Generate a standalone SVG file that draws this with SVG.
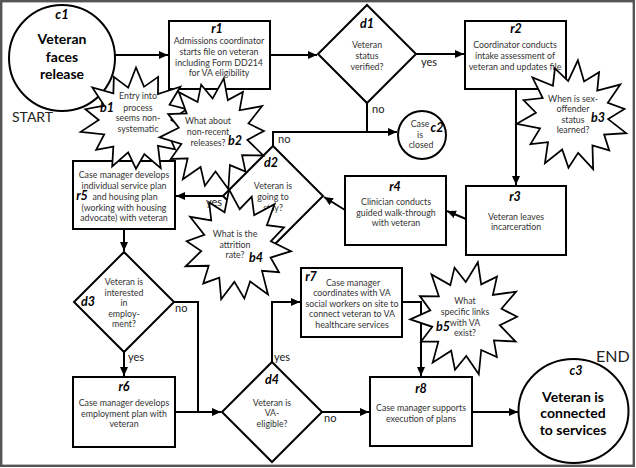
<svg xmlns="http://www.w3.org/2000/svg" width="636" height="468" viewBox="0 0 636 468">
<style>
.box{fill:#fff;stroke:#000;stroke-width:2}
.conn{fill:none;stroke:#000;stroke-width:2}
.burst{fill:#fff;stroke:#000;stroke-width:1.8;stroke-linejoin:miter}
text{font-family:Lato,'Liberation Sans',sans-serif}
.t{font-size:8.8px;fill:#333;text-anchor:middle}
.tag{font-size:12.5px;font-weight:bold;font-style:italic;fill:#000;text-anchor:middle}
.lbl{font-size:11px;fill:#222}
.big{font-size:14px;font-weight:bold;fill:#000;text-anchor:middle}
.side{font-size:14px;fill:#222}
</style>
<defs>
<marker id="arr" markerUnits="userSpaceOnUse" markerWidth="10" markerHeight="9" refX="9" refY="4" orient="auto">
<path d="M0,0 L9,4 L0,8 z" fill="#000"/>
</marker>
<path id="burstShape" d="M0,-57 L8.2,-36.1 L22.6,-46.9 L22.4,-28.1 L45.3,-36.2 L34.2,-16.5 L51.7,-11.8 L36,0 L55.6,12.7 L33.3,16.1 L39.9,31.8 L22.4,28.1 L25.2,52.3 L8.5,37 L0,53 L-8,35.1 L-24.3,50.5 L-23.1,28.9 L-40.7,32.4 L-32.4,15.6 L-56.5,12.9 L-38,0 L-51.7,-11.8 L-32.4,-15.6 L-44.6,-35.5 L-23.1,-28.9 L-22.6,-46.9 L-8,-35.1 Z"/>
</defs>
<rect x="0" y="0" width="636" height="468" fill="#fff"/>
<rect x="1.2" y="1.2" width="632.6" height="464.6" fill="none" stroke="#555" stroke-width="2.4"/>

<g id="connectors">
<path class="conn" d="M115,55 H168" marker-end="url(#arr)"/>
<path class="conn" d="M270,55 H317" marker-end="url(#arr)"/>
<path class="conn" d="M416,54 H464" marker-end="url(#arr)"/>
<path class="conn" d="M367,103 V132"/>
<path class="conn" d="M273,146 V132 H397" marker-end="url(#arr)"/>
<path class="conn" d="M516,89 V185" marker-end="url(#arr)"/>
<path class="conn" d="M466,219 L447,211" marker-end="url(#arr)"/>
<path class="conn" d="M345,210 L324,197" marker-end="url(#arr)"/>
<path class="conn" d="M223,196 H176" marker-end="url(#arr)"/>
<path class="conn" d="M124,229 V251" marker-end="url(#arr)"/>
<path class="conn" d="M174,302 H198 V412"/>
<path class="conn" d="M124,352 V376" marker-end="url(#arr)"/>
<path class="conn" d="M175,412 H221" marker-end="url(#arr)"/>
<path class="conn" d="M272,362 V302 H300" marker-end="url(#arr)"/>
<path class="conn" d="M322,412 H369" marker-end="url(#arr)"/>
<path class="conn" d="M402,302 H421 V376" marker-end="url(#arr)"/>
<path class="conn" d="M472,412 H518" marker-end="url(#arr)"/>
<text class="lbl" x="421" y="66">yes</text>
<text class="lbl" x="372" y="113">no</text>
<text class="lbl" x="278" y="143">no</text>
<text class="lbl" x="206" y="205.5">yes</text>
<text class="lbl" x="175" y="312">no</text>
<text class="lbl" x="128" y="361">yes</text>
<text class="lbl" x="274" y="360.5">yes</text>
<text class="lbl" x="324" y="421.5">no</text>
</g>

<g id="c1">
<circle class="box" cx="62" cy="58" r="53"/>
<text class="tag" x="62" y="19" style="font-size:13px">c1</text>
<text class="big" x="62" y="44">Veteran</text>
<text class="big" x="62" y="62">faces</text>
<text class="big" x="62" y="79">release</text>
<text class="side" x="12" y="122">START</text>
</g>

<g id="r1">
<rect class="box" x="169" y="21" width="101" height="68"/>
<text class="tag" x="217" y="33">r1</text>
<text class="t" x="219" y="43.5">Admissions coordinator</text>
<text class="t" x="219" y="54.5">starts file on veteran</text>
<text class="t" x="219" y="65.5">including Form DD214</text>
<text class="t" x="219" y="75.5">for VA eligibility</text>
</g>

<g id="d1">
<polygon class="box" points="367,5 416,54 367,103 318,54"/>
<text class="tag" x="367" y="28">d1</text>
<text class="t" x="367" y="47.5">Veteran</text>
<text class="t" x="367" y="58.5">status</text>
<text class="t" x="367" y="69.5">verified?</text>
</g>

<g id="r2">
<rect class="box" x="465" y="21" width="101" height="68"/>
<text class="tag" x="516" y="33">r2</text>
<text class="t" x="515" y="47.5">Coordinator conducts</text>
<text class="t" x="515" y="58.5">intake assessment of</text>
<text class="t" x="515" y="69.5">veteran and updates file</text>
</g>

<g id="c2">
<circle class="box" cx="422" cy="135" r="24"/>
<text class="t" x="420" y="126.5">Case</text>
<text class="t" x="420" y="137.5">is</text>
<text class="t" x="421" y="147.5">closed</text>
<text class="tag" x="437" y="132">c2</text>
</g>

<g id="r3">
<rect class="box" x="466" y="186" width="100" height="69"/>
<text class="tag" x="515" y="201">r3</text>
<text class="t" x="516" y="219.5">Veteran leaves</text>
<text class="t" x="516" y="229.5">incarceration</text>
</g>

<g id="r4">
<rect class="box" x="345" y="176" width="101" height="69"/>
<text class="tag" x="395" y="191">r4</text>
<text class="t" x="396" y="204.5">Clinician conducts</text>
<text class="t" x="396" y="215.5">guided walk-through</text>
<text class="t" x="396" y="225.5">with veteran</text>
</g>

<g id="d2">
<polygon class="box" points="273,146 323,196 273,246 223,196"/>
<text class="tag" x="271" y="167">d2</text>
<text class="t" x="273" y="188.5">Veteran is</text>
<text class="t" x="273" y="199.5">going to</text>
<text class="t" x="273" y="210.5">stay?</text>
</g>

<g id="r5">
<rect class="box" x="73" y="161" width="102" height="68"/>
<text class="tag" x="82" y="200">r5</text>
<text class="t" x="124" y="177.5">Case manager develops</text>
<text class="t" x="124" y="188.5">individual service plan</text>
<text class="t" x="125" y="199.5">and housing plan</text>
<text class="t" x="124" y="210.5">(working with housing</text>
<text class="t" x="124" y="220.5">advocate) with veteran</text>
</g>

<g id="d3">
<polygon class="box" points="124,252 174,302 124,352 74,302"/>
<text class="tag" x="88" y="306">d3</text>
<text class="t" x="124" y="284.5">Veteran is</text>
<text class="t" x="124" y="295.5">interested</text>
<text class="t" x="124" y="305.5">in</text>
<text class="t" x="124" y="316.5">employ-</text>
<text class="t" x="124" y="326.5">ment?</text>
</g>

<g id="r6">
<rect class="box" x="73" y="377" width="102" height="70"/>
<text class="tag" x="124" y="391">r6</text>
<text class="t" x="124" y="405.5">Case manager develops</text>
<text class="t" x="124" y="416.5">employment plan with</text>
<text class="t" x="124" y="426.5">veteran</text>
</g>

<g id="d4">
<polygon class="box" points="272,362 322,412 272,462 222,412"/>
<text class="tag" x="272" y="384">d4</text>
<text class="t" x="272" y="405.5">Veteran is</text>
<text class="t" x="272" y="415.5">VA-</text>
<text class="t" x="272" y="426.5">eligible?</text>
</g>

<g id="r7">
<rect class="box" x="301" y="268" width="101" height="69"/>
<text class="tag" x="311" y="281">r7</text>
<text class="t" x="353" y="285.5">Case manager</text>
<text class="t" x="352" y="295.5">coordinates  with VA</text>
<text class="t" x="352" y="306.5">social workers on site to</text>
<text class="t" x="352" y="316.5">connect veteran to VA</text>
<text class="t" x="352" y="327.5">healthcare services</text>
</g>

<g id="r8">
<rect class="box" x="370" y="377" width="102" height="69"/>
<text class="tag" x="421" y="393">r8</text>
<text class="t" x="421" y="410.5">Case manager supports</text>
<text class="t" x="421" y="421.5">execution of plans</text>
</g>

<g id="c3">
<ellipse class="box" cx="573.5" cy="411" rx="55" ry="52"/>
<text class="tag" x="576" y="375">c3</text>
<text class="big" x="573" y="402">Veteran is</text>
<text class="big" x="573" y="418">connected</text>
<text class="big" x="573" y="435">to services</text>
<text class="side" x="596" y="362" style="font-size:16px">END</text>
</g>

<g id="b1">
<use href="#burstShape" class="burst" transform="translate(136,120) scale(0.98,0.92)"/>
<text class="t" x="138" y="98.5">Entry into</text>
<text class="t" x="138" y="110.5">process</text>
<text class="t" x="138" y="120.5">seems non-</text>
<text class="t" x="138" y="131.5">systematic</text>
<text class="tag" x="107" y="112">b1</text>
</g>

<g id="b2">
<use href="#burstShape" class="burst" transform="translate(214,134) rotate(10) scale(0.94,0.99)"/>
<text class="t" x="208" y="123.5">What about</text>
<text class="t" x="208" y="134.5">non-recent</text>
<text class="t" x="208" y="145.5">releases?</text>
<text class="tag" x="235" y="145">b2</text>
</g>

<g id="b3">
<use href="#burstShape" class="burst" transform="translate(573,116) rotate(5) scale(0.98)"/>
<text class="t" x="573" y="101.5">When is sex-</text>
<text class="t" x="573" y="111.5">offender</text>
<text class="t" x="573" y="122.5">status</text>
<text class="t" x="573" y="132.5">learned?</text>
<text class="tag" x="598" y="122">b3</text>
</g>

<g id="b4">
<use href="#burstShape" class="burst" transform="translate(237,246) rotate(-8) scale(0.95,1)"/>
<text class="t" x="235" y="236.5">What is the</text>
<text class="t" x="235" y="247.5">attrition</text>
<text class="t" x="235" y="257.5">rate?</text>
<text class="tag" x="256" y="262">b4</text>
</g>

<g id="b5">
<use href="#burstShape" class="burst" transform="translate(466,318) rotate(12) scale(0.96,1)"/>
<text class="t" x="465" y="303.5">What</text>
<text class="t" x="465" y="314.5">specific links</text>
<text class="t" x="465" y="325.5">with VA</text>
<text class="t" x="465" y="335.5">exist?</text>
<text class="tag" x="443" y="331">b5</text>
</g>
</svg>
